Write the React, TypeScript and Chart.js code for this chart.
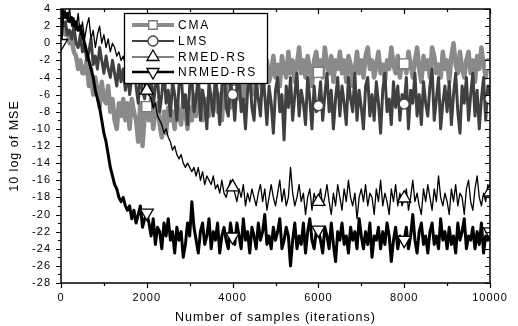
import React, { useEffect, useRef } from "react";
import { Chart, registerables } from "chart.js";
Chart.register(...registerables);

// ---- data ----
const sampleStep = 50; // samples between stored points
const xMin = 0;
const xMax = 10000;
const yMin = -28;
const yMax = 4;
const xTickStep = 2000;
const yTickStep = 2;

const seriesNames = ["CMA", "LMS", "RMED-RS", "NRMED-RS"];

const cmaValues = [
  2.5,
  2, 1, 1.5, 0, 0.5, -1, -1.5, -3, -2, -3.5,
  -3.5, -2, -5, -3, -6, -4, -5.5, -7.5, -4.5, -6.5,
  -7, -5, -8, -6.5, -9, -10, -7, -8.5, -6.5, -9,
  -7, -10, -6.5, -8, -9, -11.5, -7, -12, -8.5, -7.4,
  -9, -6.5, -10, -8, -7, -9.5, -11, -8, -10.5, -7.5,
  -9, -8, -10, -7, -8.5, -9.5, -6.5, -8, -10, -7.5,
  -9, -6, -8.5, -7, -5.5, -9, -7, -6.5, -8.5, -6,
  -7.5, -5, -8, -6, -9, -5.5, -7, -4.5, -7.5, -5.5,
  -4, -6.5, -5, -3.5, -7, -4.5, -5.5, -3, -6, -4,
  -5.5, -2.5, -4, -6, -3, -2, -4.5, -3.5, -1.5, -4,
  -2.5, -5, -1.5, -3, -4, -1, -3.5, -2, -4.5, -2.5,
  -0.5, -3.5, -2, -4, -1.5, -3, -5, -2, -1, -3.4,
  -2, -4, -0.5, -2.5, -3.5, -1.5, -4.5, -2, -3, -1,
  -3.5, -2, -4.5, -1.5, -2.5, -5, -3, -1, -3.5, -2,
  -4, -1.5, -0.5, -3, -2, -4, -2.5, -1, -3.5, -2.5,
  -4.5, -2, -3, -0.5, -2.5, -3.5, -1.5, -4, -2, -2.4,
  -3.5, -1, -2.5, -4, -2, -0.5, -3, -4.5, -1.5, -3,
  -2, -4, -0.5, -1.5, -3.5, -2.5, -4, -1, -3, -2,
  -4.5, -1.5, 0, -2.5, -3.5, -1, -3, -4, -2, -1,
  -3.5, -2, -4.5, -1.5, -3, -0.5, -2.5, -4, -2, -2.5,
];

const lmsValues = [
  3,
  2, 2.5, 1, 1.5, 0.5, 2, 0, -0.5, 1, -1,
  0, -2, -1, 0.5, -2.5, -1.5, -3, -0.5, -2, -3.5,
  -1.5, -3, -4, -2, -3.5, -5, -2.5, -4.5, -3, -5.5,
  -3.5, -6, -4, -2.5, -5, -7, -3.5, -5.5, -6.5, -4,
  -6, -3.5, -7.5, -5, -4, -8, -6, -3, -7, -5.5,
  -8.5, -4.5, -6, -9, -5, -3.5, -7.5, -6, -9.5, -5,
  -4, -8, -6.5, -3.5, -9, -5.5, -7, -10, -4.5, -6.5,
  -8.5, -4, -6, -9.5, -5, -3, -7.5, -8.5, -4.5, -6,
  -9, -5, -4, -8, -6.5, -10, -5.5, -3.5, -7.5, -9,
  -4.5, -6.5, -8.5, -3.5, -6, -9.5, -5, -7, -10.5, -5.5,
  -4, -8, -6, -11.3, -5, -7.5, -4, -9, -6, -3.5,
  -8.5, -5.5, -7, -9.5, -4, -6.5, -10, -5, -8, -7.3,
  -4.5, -9, -6, -3.5, -8, -5.5, -10, -6.5, -4, -8.5,
  -5, -7, -9.5, -4, -6.5, -8, -3.5, -9, -5.5, -7.5,
  -10, -5, -4, -8.5, -6, -9, -4.5, -7, -10.5, -5.5,
  -3.5, -8, -6.5, -9.5, -4.5, -7.5, -5, -9, -6, -7.1,
  -4, -10, -5.5, -7, -3.5, -8.5, -6, -9.5, -4.5, -7,
  -8.5, -5, -3, -9, -6.5, -4, -10, -7, -5, -8,
  -4.5, -9.5, -6, -3.5, -8, -10.5, -5, -7, -4, -9,
  -6, -3.5, -8.5, -5.5, -10, -6.5, -4, -9, -5, -6.5,
];

const rmedValues = [
  4,
  3, 3.8, 2.5, 4, 2, 3, 1.5, 3.5, 1, 2.5,
  0.5, 2, 3, 0.5, 1.5, -0.5, 1, 2, 0, 1,
  -0.5, 0.5, -1, 0, -0.5, -1.5, -1, -2, -1.5, -2.5,
  -2, -3, -2.5, -3.5, -3, -4, -4.5, -4, -5, -5.5,
  -6, -6.5, -7.5, -7, -8.5, -9, -9.5, -10.5, -10, -11,
  -11.5, -12.5, -12, -13, -13.5, -13, -14, -14.5, -14, -14.5,
  -15, -14.5, -15.5, -14.5, -16, -15, -16.5, -15.5, -16, -16.5,
  -15.5, -17, -16.5, -17.5, -16, -17.5, -18, -17, -16, -16.8,
  -17.5, -18.5, -17, -18, -16.5, -19, -17.5, -18.5, -17, -18,
  -19, -17.5, -16.5, -18.5, -17, -19.5, -18, -16.5, -18, -19,
  -17.5, -16, -18.5, -17, -19, -18, -14.5, -17.5, -19, -18,
  -16.5, -18.5, -17.5, -20, -18, -17, -19.5, -17.5, -18.5, -18.5,
  -17, -19, -18, -16.5, -18.5, -20, -17.5, -19, -16.5, -18,
  -19.5, -17, -18.5, -16, -18, -19, -17.5, -20.5, -18, -17,
  -18.5, -16.5, -19, -17.5, -18, -20, -17, -18.5, -16, -19,
  -17.5, -18.5, -20, -17, -18.5, -16.5, -19, -17.5, -19, -18.1,
  -17, -19.5, -18, -16, -18.5, -17.5, -19, -20, -17, -18.5,
  -16.5, -18, -19.5, -17, -18.5, -15.5, -18, -19, -17.5, -18.5,
  -20, -17, -18.5, -16.5, -19, -17.5, -18, -20, -17, -16,
  -18.5, -19.5, -17, -15.5, -18, -19, -17.5, -18.5, -16.5, -17.4,
];

const nrmedValues = [
  0,
  3.8, 3, 3.5, 2.5, 3, 2, 2.5, 1.5, 2, 1,
  0, -1, -2, -3, -4, -5.5, -6.5, -7.5, -9, -10.5,
  -11.5, -13, -14.5, -15.5, -16.5, -17, -18, -18.5, -18, -19,
  -19.5, -19, -20.5, -19.5, -21, -20, -19, -21.5, -20.5, -19.8,
  -21, -22.5, -20.5, -23.5, -21.5, -22, -24, -21, -22.5, -20.5,
  -23, -22, -24.5, -21.5, -23, -22, -25, -23.5, -21, -22.5,
  -18.5, -21.5, -23, -24.5, -22, -21, -23.5, -22.5, -20.5, -24,
  -22, -23, -21, -24.5, -22.5, -21.5, -23, -24, -21, -22.6,
  -23.5, -21, -22.5, -24, -20.5, -23, -22, -24.5, -21.5, -22.5,
  -24, -21, -23, -22, -20, -23.5, -22.5, -24, -21.5, -23,
  -22, -20.5, -24, -23, -21.5, -22.5, -26, -23, -21, -24,
  -22.5, -23.5, -21, -24.5, -22, -20.5, -23, -24, -22, -21.8,
  -23, -24.5, -21.5, -22.5, -24, -21, -23.5, -25.5, -22, -23,
  -21, -23.5, -22.5, -24.5, -21.5, -23, -22, -24, -20.5, -22.5,
  -24, -22, -23.5, -21, -25, -22.5, -23, -21.5, -24, -22,
  -23.5, -21, -22.5, -25.5, -23, -21.5, -24, -22.5, -23, -23,
  -21.5, -24, -22.5, -20, -23, -24.5, -22, -21, -23.5, -22.5,
  -24.5, -22, -21, -23.5, -22.5, -24, -20.5, -23, -22, -24,
  -21.5, -23.5, -22.5, -24.5, -21, -23, -22, -20.5, -24, -22.5,
  -23, -21.5, -24, -22, -23.5, -21, -24.5, -22.5, -23, -22,
];

// indices where symbols are drawn
const cmaMarkers = [40, 80, 120, 160, 200];
const lmsMarkers = [40, 80, 120, 160, 200];
const rmedMarkers = [40, 80, 120, 160, 200];
const nrmedMarkers = [0, 40, 80, 120, 160, 200];

const FONT = "'Liberation Sans', Arial, sans-serif";

function toPoints(vals: number[]) {
  return vals.map((v, i) => ({ x: i * sampleStep, y: v }));
}

type SeriesStyle = {
  color: string;
  edge: string;
  width: number;
  style: string;
  rotation: number;
  radius: number;
  legendRadius: number;
  legendWidth: number;
};

const styles: SeriesStyle[] = [
  { color: "#8a8a8a", edge: "#7a7a7a", width: 4.5, style: "rect", rotation: 0, radius: 7, legendRadius: 6, legendWidth: 4 },
  { color: "#404040", edge: "#404040", width: 3, style: "circle", rotation: 0, radius: 5, legendRadius: 5, legendWidth: 2 },
  { color: "#000000", edge: "#000000", width: 1.3, style: "triangle", rotation: 0, radius: 7.5, legendRadius: 7, legendWidth: 1.2 },
  { color: "#000000", edge: "#000000", width: 3, style: "triangle", rotation: 180, radius: 7.5, legendRadius: 7, legendWidth: 2.5 },
];

const frameAndTicks = {
  id: "frameAndTicks",
  afterDatasetsDraw(chart: any) {
    const { ctx, chartArea } = chart;
    const { left, right, top, bottom } = chartArea;
    const xs = chart.scales.x;
    const ys = chart.scales.y;
    ctx.save();
    ctx.strokeStyle = "#000";
    ctx.lineWidth = 1.5;
    ctx.strokeRect(left, top, right - left, bottom - top);
    ctx.lineWidth = 1.2;
    ctx.beginPath();
    for (let v = xMin; v <= xMax; v += xTickStep / 2) {
      const px = Math.round(xs.getPixelForValue(v)) + 0.5;
      const len = v % xTickStep === 0 ? 5 : 3;
      ctx.moveTo(px, bottom);
      ctx.lineTo(px, bottom + len);
      ctx.moveTo(px, top);
      ctx.lineTo(px, top + len);
    }
    for (let v = yMin; v <= yMax; v += yTickStep / 2) {
      const py = Math.round(ys.getPixelForValue(v)) + 0.5;
      const len = (v - yMin) % yTickStep === 0 ? 5 : 3;
      ctx.moveTo(left - len, py);
      ctx.lineTo(left, py);
      ctx.moveTo(right - len, py);
      ctx.lineTo(right, py);
    }
    ctx.stroke();
    ctx.restore();
  },
};

function drawMarker(ctx: CanvasRenderingContext2D, s: SeriesStyle, x: number, y: number) {
  ctx.save();
  ctx.fillStyle = "#fff";
  ctx.strokeStyle = s.edge;
  ctx.lineWidth = 1.3;
  ctx.beginPath();
  const r = s.legendRadius;
  if (s.style === "rect") {
    const h = r * Math.SQRT1_2;
    ctx.rect(x - h, y - h, 2 * h, 2 * h);
  } else if (s.style === "circle") {
    ctx.arc(x, y, r, 0, Math.PI * 2);
  } else {
    const dir = s.rotation === 180 ? -1 : 1;
    const w = (r * Math.sqrt(3)) / 2;
    ctx.moveTo(x, y - dir * r);
    ctx.lineTo(x + w, y + (dir * r) / 2);
    ctx.lineTo(x - w, y + (dir * r) / 2);
    ctx.closePath();
  }
  ctx.fill();
  ctx.stroke();
  ctx.restore();
}

const boxLegend = {
  id: "boxLegend",
  afterDraw(chart: any) {
    const { ctx } = chart;
    const bx = 124, by = 13, bw = 143, bh = 70;
    ctx.save();
    ctx.fillStyle = "#fff";
    ctx.fillRect(bx, by, bw, bh);
    ctx.strokeStyle = "#000";
    ctx.lineWidth = 1.3;
    ctx.strokeRect(bx + 0.5, by + 0.5, bw, bh);
    const rowsY = [25, 41, 57, 72];
    seriesNames.forEach((name, i) => {
      const s = styles[i];
      const yy = rowsY[i];
      ctx.strokeStyle = s.color;
      ctx.lineWidth = s.legendWidth;
      ctx.beginPath();
      ctx.moveTo(132, yy);
      ctx.lineTo(174, yy);
      ctx.stroke();
      drawMarker(ctx, s, 153, yy);
      ctx.fillStyle = "#000";
      ctx.font = `12px ${FONT}`;
      (ctx as any).letterSpacing = "1.8px";
      ctx.textAlign = "left";
      ctx.textBaseline = "middle";
      ctx.fillText(name, 178, yy + 0.5);
    });
    ctx.restore();
  },
};

const spacing = {
  id: "spacing",
  beforeUpdate(chart: any) {
    (chart.ctx as any).letterSpacing = "1px";
  },
  beforeDraw(chart: any) {
    (chart.ctx as any).letterSpacing = "1px";
  },
};

export default function App() {
  const canvasRef = useRef<HTMLCanvasElement | null>(null);

  useEffect(() => {
    document.body.style.margin = "0";
    const canvas = canvasRef.current;
    if (!canvas) return;
    const valueSets = [cmaValues, lmsValues, rmedValues, nrmedValues];
    const markerSets = [cmaMarkers, lmsMarkers, rmedMarkers, nrmedMarkers];
    const orders = [4, 3, 2, 1];
    const datasets = valueSets.map((vals, i) => {
      const s = styles[i];
      const marks = markerSets[i];
      return {
        label: seriesNames[i],
        data: toPoints(vals),
        borderColor: s.color,
        borderWidth: s.width,
        borderJoinStyle: "round" as const,
        tension: 0,
        fill: false,
        order: orders[i],
        pointStyle: s.style,
        pointRotation: s.rotation,
        pointRadius: (c: any) => (marks.includes(c.dataIndex) ? s.radius : 0),
        pointHoverRadius: 0,
        pointBackgroundColor: "#fff",
        pointBorderColor: s.edge,
        pointBorderWidth: 1.3,
      };
    });

    const chart = new Chart(canvas, {
      type: "line",
      data: { datasets },
      options: {
        animation: false,
        responsive: false,
        devicePixelRatio: 1,
        events: [],
        layout: { padding: { top: 9, right: 28, left: 0, bottom: 0 } },
        plugins: { legend: { display: false }, tooltip: { enabled: false } },
        scales: {
          x: {
            type: "linear",
            min: xMin,
            max: xMax,
            grid: { display: false, drawTicks: false },
            border: { display: false },
            ticks: {
              stepSize: xTickStep,
              color: "#000",
              font: { family: FONT, size: 11 },
              padding: 8,
              maxRotation: 0,
              callback: (v: any) => String(v),
            },
            title: {
              display: true,
              text: "Number of samples (iterations)",
              color: "#000",
              font: { family: FONT, size: 12.5 },
              padding: { top: 0, bottom: 1 },
            },
            afterFit: (scale: any) => {
              scale.height = 43;
              scale.paddingLeft = 0;
              scale.paddingRight = 0;
              scale.paddingTop = 0;
              scale.paddingBottom = 0;
            },
          },
          y: {
            type: "linear",
            min: yMin,
            max: yMax,
            grid: { display: false, drawTicks: false },
            border: { display: false },
            ticks: {
              stepSize: yTickStep,
              color: "#000",
              font: { family: FONT, size: 11 },
              padding: 10,
              callback: (v: any) => String(v),
            },
            title: {
              display: true,
              text: "10 log of MSE",
              color: "#000",
              font: { family: FONT, size: 12.5 },
              padding: { top: 7.5, bottom: 0 },
            },
            afterFit: (scale: any) => {
              scale.width = 61;
              scale.paddingLeft = 0;
              scale.paddingRight = 0;
              scale.paddingTop = 0;
              scale.paddingBottom = 0;
            },
          },
        },
      } as any,
      plugins: [spacing, frameAndTicks, boxLegend],
    });
    return () => chart.destroy();
  }, []);

  return (
    <div style={{ width: 518, height: 326, position: "relative", background: "#fff" }}>
      <canvas ref={canvasRef} width={518} height={326} style={{ display: "block" }} />
    </div>
  );
}
